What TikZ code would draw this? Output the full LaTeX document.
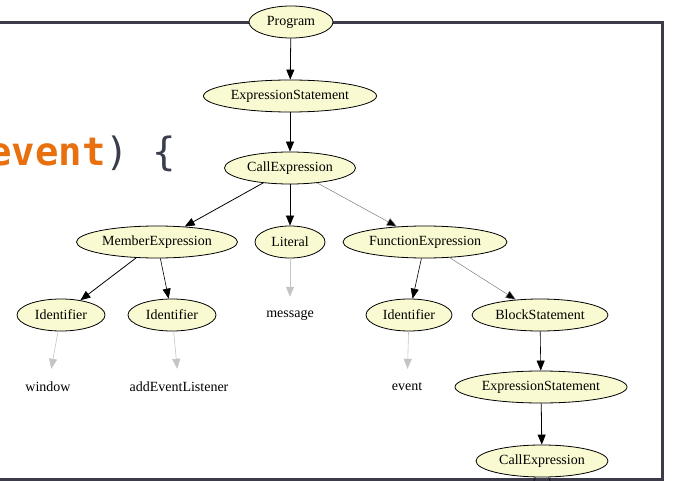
\documentclass[tikz,border=0pt]{standalone}
\usepackage{fontspec}
\setmainfont{Liberation Serif}
\newfontfamily\codefont{DejaVu Sans Mono}
\usetikzlibrary{shapes.geometric,arrows.meta}
\definecolor{astfill}{HTML}{FAFAD2}
\definecolor{framegray}{HTML}{3B3B49}
\definecolor{kworange}{HTML}{E8700F}
\definecolor{punct}{HTML}{3A3D4B}
\definecolor{leafgray}{HTML}{C4C4C4}
\tikzset{
  astnode/.style={ellipse, draw=black, line width=0.8pt, fill=astfill,
    inner sep=0pt, minimum height=32pt, font=\fontsize{14}{16}\selectfont},
  leaf/.style={inner sep=0pt, minimum height=36pt, minimum width=10pt,
    font=\fontsize{14}{16}\selectfont},
  edge/.style={line width=0.8pt, -{Triangle[length=10pt,width=8pt]}},
  softedge/.style={line width=0.45pt, draw=black!55,
    -{Triangle[length=10pt,width=8pt,fill=black]}},
  leafedge/.style={line width=0.6pt, draw=leafgray,
    -{Triangle[length=10pt,width=8pt,fill=leafgray]}},
  framing/.style={line width=3pt, draw=framegray}
}
\begin{document}
\begin{tikzpicture}[x=1pt,y=-1pt]
\useasboundingbox (0,0) rectangle (679,481);

% source snippet behind the tree
\node[anchor=base west, inner sep=0pt, text=punct,
  font=\codefont\fontsize{39}{44}\selectfont] (code) at (-12,165)
  {\textcolor{kworange}{\bfseries event})\ \{};

% framed panel
\coordinate (tl) at (-10,22.5);
\coordinate (tr) at (662.5,22.5);
\coordinate (br) at (662.5,479);
\coordinate (bl) at (-10,479);
\draw[framing] (tl) -- (tr) -- (br) -- (bl);

% syntax tree
\node[astnode, minimum width=84pt]  (prog)   at (291,22)  {Program};
\node[astnode, minimum width=173pt] (es)     at (290,96)  {ExpressionStatement};
\node[astnode, minimum width=131pt] (call)   at (290,168) {CallExpression};
\node[astnode, minimum width=161pt] (member) at (157,242) {MemberExpression};
\node[astnode, minimum width=70pt]  (lit)    at (290,242) {Literal};
\node[astnode, minimum width=164pt] (func)   at (425,242) {FunctionExpression};
\node[astnode, minimum width=88pt]  (idwin)  at (61,315)  {Identifier};
\node[astnode, minimum width=88pt]  (idadd)  at (172,315) {Identifier};
\node[leaf]                         (msg)    at (290,315) {message};
\node[astnode, minimum width=86pt]  (idevt)  at (409,315) {Identifier};
\node[astnode, minimum width=136pt] (block)  at (540,315) {BlockStatement};
\node[leaf]                         (win)    at (48,387)  {window};
\node[leaf]                         (add)    at (179,387) {addEventListener};
\node[leaf]                         (evt)    at (407,387) {event};
\node[astnode, minimum width=172pt] (es2)    at (541,387) {ExpressionStatement};
\node[astnode, minimum width=132pt] (call2)  at (542,461) {CallExpression};

% children of the last call continue below the panel
\coordinate (down1) at (518,520);
\coordinate (down2) at (566,520);

\draw[edge] (prog) -- (es);
\draw[edge] (es) -- (call);
\draw[edge] (call) -- (member);
\draw[edge, line width=0.6pt] (call) -- (lit);
\draw[softedge] (call) -- (func);
\draw[edge] (member) -- (idwin);
\draw[edge, line width=0.6pt] (member) -- (idadd);
\draw[leafedge] (lit) -- (msg);
\draw[edge, line width=0.6pt] (func) -- (idevt);
\draw[softedge] (func) -- (block);
\draw[leafedge] (idwin) -- (win);
\draw[leafedge] (idadd) -- (add);
\draw[leafedge] (idevt) -- (evt);
\draw[edge, line width=0.6pt] (block) -- (es2);
\draw[edge] (es2) -- (call2);
\draw[line width=0.6pt] (call2) -- (down1);
\draw[line width=0.6pt] (call2) -- (down2);
\end{tikzpicture}
\end{document}
